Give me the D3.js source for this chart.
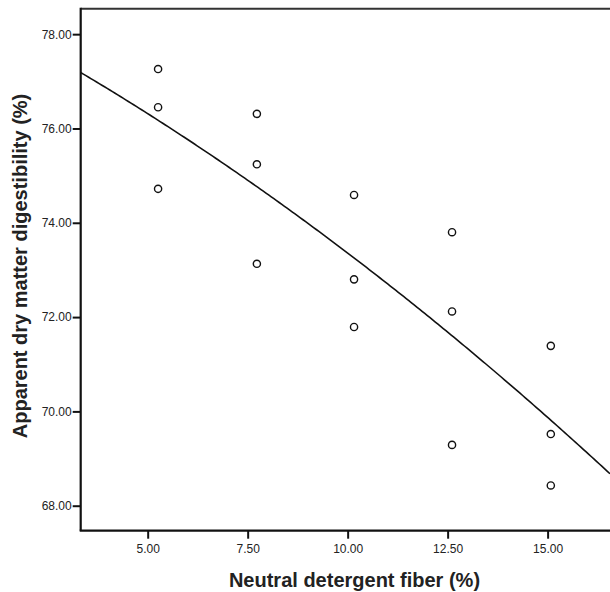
<!DOCTYPE html>
<html>
<head>
<meta charset="utf-8">
<script src="https://cdn.jsdelivr.net/npm/d3@7"></script>
<style>
  html, body { margin: 0; padding: 0; background: #fff; }
  svg { display: block; }
  text { font-family: Arial, "Liberation Sans", sans-serif; fill: #222; }
</style>
</head>
<body>
<svg id="chart" width="610" height="592"></svg>
<script>
// Data
const ndf = [5.26, 5.26, 5.26, 7.73, 7.73, 7.73, 10.16, 10.16, 10.16, 12.61, 12.61, 12.61, 15.08, 15.08, 15.08];
const dmd = [77.26, 76.45, 74.72, 76.31, 75.24, 73.13, 74.59, 72.80, 71.79, 73.80, 72.12, 69.29, 71.39, 69.52, 68.43];
const xTicks = [5.0, 7.5, 10.0, 12.5, 15.0];
const yTicks = [68, 70, 72, 74, 76, 78];
const xDomain = [3.325, 16.56];
const yDomain = [67.47, 78.54];
const xTitle = "Neutral detergent fiber (%)";
const yTitle = "Apparent dry matter digestibility (%)";

const svg = d3.select("#chart");
const mLeft = 80.7, mRight = 610, mTop = 8.7, mBottom = 530.7;

const x = d3.scaleLinear().domain(xDomain).range([mLeft, mRight]);
const y = d3.scaleLinear().domain(yDomain).range([mBottom, mTop]);

// Quadratic least-squares fit of the data
function quadFit(xs, ys) {
  const n = xs.length;
  let s = [0,0,0,0,0], t = [0,0,0];
  for (let i = 0; i < n; i++) {
    const xi = xs[i], yi = ys[i];
    for (let k = 0; k <= 4; k++) s[k] += Math.pow(xi, k);
    for (let k = 0; k <= 2; k++) t[k] += yi * Math.pow(xi, k);
  }
  const A = [[s[0], s[1], s[2], t[0]], [s[1], s[2], s[3], t[1]], [s[2], s[3], s[4], t[2]]];
  for (let i = 0; i < 3; i++) {
    let p = i;
    for (let r = i + 1; r < 3; r++) if (Math.abs(A[r][i]) > Math.abs(A[p][i])) p = r;
    [A[i], A[p]] = [A[p], A[i]];
    for (let r = 0; r < 3; r++) {
      if (r === i) continue;
      const f = A[r][i] / A[i][i];
      for (let c = i; c < 4; c++) A[r][c] -= f * A[i][c];
    }
  }
  return [A[0][3] / A[0][0], A[1][3] / A[1][1], A[2][3] / A[2][2]];
}
const [a0, a1, a2] = quadFit(ndf, dmd);
const fitPts = d3.range(0, 201).map(i => {
  const xv = xDomain[0] + (xDomain[1] - xDomain[0]) * i / 200;
  return [xv, a0 + a1 * xv + a2 * xv * xv];
});

// Frame (top line)
svg.append("line").attr("x1", mLeft).attr("x2", 610).attr("y1", mTop).attr("y2", mTop)
  .attr("stroke", "#333").attr("stroke-width", 2);

// Axes
const xAxis = svg.append("g").attr("transform", `translate(0,${mBottom})`)
  .call(d3.axisBottom(x).tickValues(xTicks).tickFormat(d3.format(".2f")).tickSize(8).tickSizeOuter(0).tickPadding(6));
const yAxis = svg.append("g").attr("transform", `translate(${mLeft},0)`)
  .call(d3.axisLeft(y).tickValues(yTicks).tickFormat(d3.format(".2f")).tickSize(8).tickSizeOuter(0).tickPadding(1));
[xAxis, yAxis].forEach(g => {
  g.select(".domain").attr("stroke", "#111").attr("stroke-width", 2.2);
  g.selectAll(".tick line").attr("stroke", "#111").attr("stroke-width", 2);
  g.selectAll(".tick text").attr("font-size", 12).attr("fill", "#222")
    .style("font-family", "Arial, 'Liberation Sans', sans-serif");
});
xAxis.select(".domain").attr("d", `M${mLeft - 1},0H${mRight}`);
yAxis.select(".domain").attr("d", `M0,${mBottom}V${mTop - 1}`);

// Fit curve
svg.append("clipPath").attr("id", "clip").append("rect")
  .attr("x", mLeft).attr("y", mTop).attr("width", mRight - mLeft).attr("height", mBottom - mTop);
svg.append("path").datum(fitPts)
  .attr("clip-path", "url(#clip)")
  .attr("fill", "none").attr("stroke", "#111").attr("stroke-width", 1.6)
  .attr("d", d3.line().x(d => x(d[0])).y(d => y(d[1])));

// Points
svg.append("g").selectAll("circle").data(ndf.map((v, i) => [v, dmd[i]])).join("circle")
  .attr("cx", d => x(d[0])).attr("cy", d => y(d[1])).attr("r", 3.6)
  .attr("fill", "none").attr("stroke", "#111").attr("stroke-width", 1.4);

// Titles
svg.append("text").attr("x", 354.5).attr("y", 587).attr("text-anchor", "middle")
  .attr("font-size", 20).attr("font-weight", "bold").attr("fill", "#111").text(xTitle);
svg.append("text").attr("transform", "translate(27,266) rotate(-90)").attr("text-anchor", "middle")
  .attr("font-size", 20).attr("font-weight", "bold").attr("fill", "#111").text(yTitle);
</script>
</body>
</html>
